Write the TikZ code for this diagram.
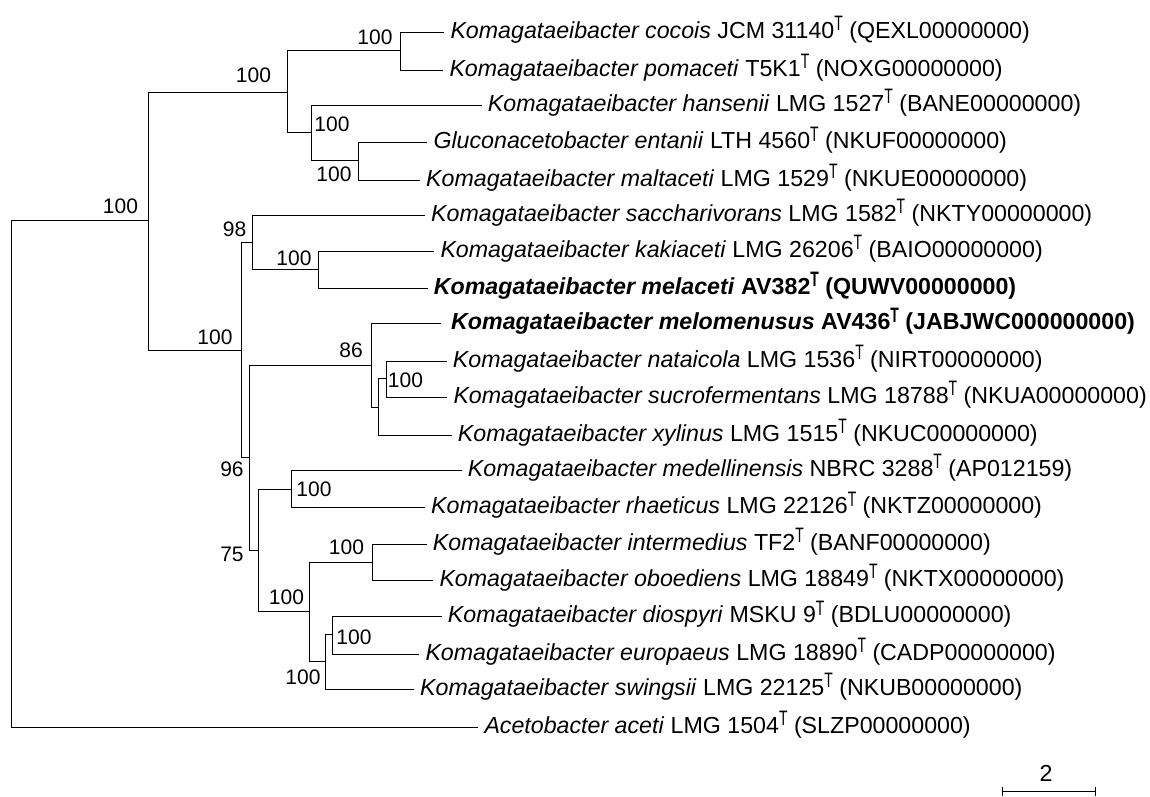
\documentclass[tikz,border=0pt]{standalone}
\usepackage{fontspec}
\setmainfont{Liberation Sans}
\usetikzlibrary{positioning}

\newcommand{\typeT}{\raisebox{0.6ex}{\scalebox{0.6}[0.9]{T}}}
\newcommand{\taxon}[3]{\textit{#1} #2\typeT{} (#3)}

\begin{document}
\begin{tikzpicture}[x=1pt, y=-1pt, >=stealth]
			\tikzstyle{leaf} = [anchor=west, inner xsep=6pt, inner ysep=0pt, text height=16.5pt, text depth=4.5pt, font=\fontsize{23.2}{27}\selectfont]
			\tikzstyle{newleaf} = [leaf, font=\fontsize{23.2}{27}\selectfont\bfseries]
			\tikzstyle{boot} = [inner sep=0pt, font=\fontsize{21}{25}\selectfont]
			\tikzstyle{branch} = [line width=0.9pt, to path={|- (\tikztotarget)}]
			\useasboundingbox (0,0) rectangle (1150,796);

			% inner nodes of the tree
			\coordinate (root) at (11.7,473.5);
			\coordinate (a) at (148,220);
			\coordinate (b) at (287.7,92.7);
			\coordinate (c) at (400,50.7);
			\coordinate (d) at (311.7,132.3);
			\coordinate (e) at (358.3,160.3);
			\coordinate (f) at (241.3,350);
			\coordinate (g) at (252.7,242.7);
			\coordinate (h) at (318.7,269.3);
			\coordinate (i) at (249.3,457.7);
			\coordinate (j) at (371.7,365.7);
			\coordinate (k) at (378.7,407.3);
			\coordinate (l) at (386.7,378.3);
			\coordinate (m) at (258.7,550.7);
			\coordinate (n) at (291.3,489.3);
			\coordinate (o) at (309.7,611.7);
			\coordinate (p) at (372.7,562);
			\coordinate (q) at (325.3,661.7);
			\coordinate (r) at (332.3,634.3);

			% leaves
			\node[leaf] (cocois) at (444.3,32.3) {\taxon{Komagataeibacter cocois}{JCM 31140}{QEXL00000000}};
			\node[leaf] (pomaceti) at (443.3,70) {\taxon{Komagataeibacter pomaceti}{T5K1}{NOXG00000000}};
			\node[leaf] (hansenii) at (481.7,105) {\taxon{Komagataeibacter hansenii}{LMG 1527}{BANE00000000}};
			\node[leaf] (entanii) at (427.3,142.7) {\taxon{Gluconacetobacter entanii}{LTH 4560}{NKUF00000000}};
			\node[leaf] (maltaceti) at (420,180) {\taxon{Komagataeibacter maltaceti}{LMG 1529}{NKUE00000000}};
			\node[leaf] (saccharivorans) at (425,215) {\taxon{Komagataeibacter saccharivorans}{LMG 1582}{NKTY00000000}};
			\node[leaf] (kakiaceti) at (434.3,251.3) {\taxon{Komagataeibacter kakiaceti}{LMG 26206}{BAIO00000000}};
			\node[newleaf] (melaceti) at (427.7,288.3) {\taxon{Komagataeibacter melaceti}{AV382}{QUWV00000000}};
			\node[newleaf, inner xsep=10pt] (melomenusus) at (441,323.7) {\taxon{Komagataeibacter melomenusus}{AV436}{JABJWC000000000}};
			\node[leaf] (nataicola) at (446.7,361) {\taxon{Komagataeibacter nataicola}{LMG 1536}{NIRT00000000}};
			\node[leaf] (sucrofermentans) at (447.3,397.3) {\taxon{Komagataeibacter sucrofermentans}{LMG 18788}{NKUA00000000}};
			\node[leaf] (xylinus) at (451.7,435) {\taxon{Komagataeibacter xylinus}{LMG 1515}{NKUC00000000}};
			\node[leaf] (medellinensis) at (461.7,470.3) {\taxon{Komagataeibacter medellinensis}{NBRC 3288}{AP012159}};
			\node[leaf] (rhaeticus) at (425,507.7) {\taxon{Komagataeibacter rhaeticus}{LMG 22126}{NKTZ00000000}};
			\node[leaf] (intermedius) at (426.7,544) {\taxon{Komagataeibacter intermedius}{TF2}{BANF00000000}};
			\node[leaf] (oboediens) at (433.3,580) {\taxon{Komagataeibacter oboediens}{LMG 18849}{NKTX00000000}};
			\node[leaf] (diospyri) at (441.7,616.7) {\taxon{Komagataeibacter diospyri}{MSKU 9}{BDLU00000000}};
			\node[leaf] (europaeus) at (419.3,654) {\taxon{Komagataeibacter europaeus}{LMG 18890}{CADP00000000}};
			\node[leaf] (swingsii) at (414,689) {\taxon{Komagataeibacter swingsii}{LMG 22125}{NKUB00000000}};
			\node[leaf] (aceti) at (478.3,727) {\taxon{Acetobacter aceti}{LMG 1504}{SLZP00000000}};

			\path[branch]
			(root) edge (a) edge (aceti.west)
			(a) edge (b) edge (f)
			(b) edge (c) edge (d)
			(c) edge (cocois.west) edge (pomaceti.west)
			(d) edge (hansenii.west) edge (e)
			(e) edge (entanii.west) edge (maltaceti.west)
			(f) edge (g) edge (i)
			(g) edge (saccharivorans.west) edge (h)
			(h) edge (kakiaceti.west) edge (melaceti.west)
			(i) edge (j) edge (m)
			(j) edge (melomenusus.west) edge (k)
			(k) edge (l) edge (xylinus.west)
			(l) edge (nataicola.west) edge (sucrofermentans.west)
			(m) edge (n) edge (o)
			(n) edge (medellinensis.west) edge (rhaeticus.west)
			(o) edge (p) edge (q)
			(p) edge (intermedius.west) edge (oboediens.west)
			(q) edge (r) edge (swingsii.west)
			(r) edge (diospyri.west) edge (europaeus.west)
			;

			% bootstrap values
			\node[boot] (bsa) at (120.5,206) {100};
			\node[boot] (bsb) at (253.5,75.5) {100};
			\node[boot] (bsc) at (375,37.5) {100};
			\node[boot] (bsd) at (332,124.5) {100};
			\node[boot] (bse) at (334,174.5) {100};
			\node[boot] (bsf) at (215,337) {100};
			\node[boot] (bsg) at (234.5,229.5) {98};
			\node[boot] (bsh) at (294,258.5) {100};
			\node[boot] (bsi) at (232,469.5) {96};
			\node[boot] (bsj) at (351,350.5) {86};
			\node[boot] (bsl) at (405.5,380.5) {100};
			\node[boot] (bsm) at (232,554) {75};
			\node[boot] (bsn) at (314,489.5) {100};
			\node[boot] (bso) at (286.5,597.5) {100};
			\node[boot] (bsp) at (346.5,547.5) {100};
			\node[boot] (bsq) at (303,677.5) {100};
			\node[boot] (bsr) at (354,637.5) {100};

			% scale bar
			\coordinate (barl) at (1002.3,791.7);
			\coordinate (barr) at (1095.7,791.7);
			\draw[line width=0.9pt] (barl) -- (barr);
			\draw[line width=0.9pt] ([yshift=5pt]barl) -- ([yshift=-4pt]barl);
			\draw[line width=0.9pt] ([yshift=5pt]barr) -- ([yshift=-4pt]barr);
			\node[boot, font=\fontsize{23.2}{27}\selectfont] (barlabel) at (1046,773) {2};
\end{tikzpicture}
\end{document}
